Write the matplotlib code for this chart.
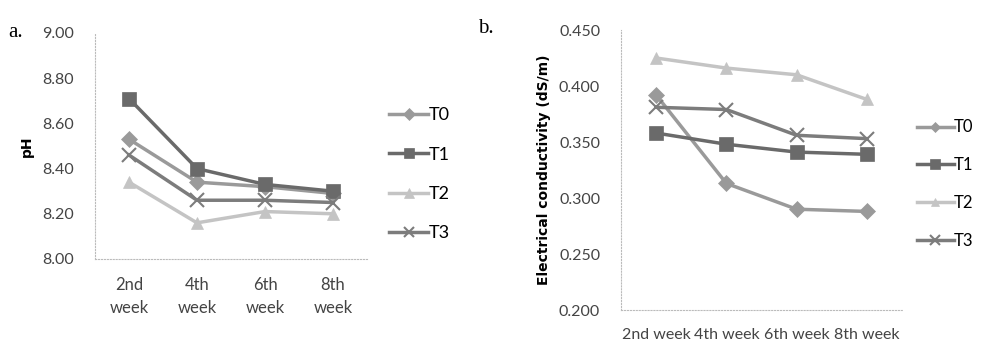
import matplotlib
matplotlib.use("Agg")
import matplotlib.pyplot as plt

plt.rcParams["font.family"] = ["Lato", "DejaVu Sans"]

weeks_a = ["2nd\nweek", "4th\nweek", "6th\nweek", "8th\nweek"]
weeks_b = ["2nd week", "4th week", "6th week", "8th week"]
treatments = ["T0", "T1", "T2", "T3"]

ph_t0 = [8.53, 8.34, 8.32, 8.29]
ph_t1 = [8.71, 8.40, 8.33, 8.30]
ph_t2 = [8.34, 8.16, 8.21, 8.20]
ph_t3 = [8.46, 8.26, 8.26, 8.25]

ec_t0 = [0.392, 0.313, 0.290, 0.288]
ec_t1 = [0.358, 0.348, 0.341, 0.339]
ec_t2 = [0.425, 0.416, 0.410, 0.388]
ec_t3 = [0.381, 0.379, 0.356, 0.353]

colors = ["#9a9a9a", "#6a6a6a", "#c4c4c4", "#7c7c7c"]
markers = ["D", "s", "^", "x"]
msizes = [8, 10, 9, 10]

fig = plt.figure(figsize=(9.96, 3.45), dpi=100)


def draw(ax, xlabels, series, ylim, yticks, fmt, ylabel, lab_size, linespacing):
    x = range(len(xlabels))
    for vals, name, c, m, ms in zip(series, treatments, colors, markers, msizes):
        ax.plot(x, vals, color=c, marker=m, markersize=ms, linewidth=2.5,
                markeredgewidth=1.5 if m == "x" else 0.5,
                markeredgecolor=c, label=name)
    ax.set_ylim(*ylim)
    ax.set_yticks(yticks)
    ax.set_yticklabels([fmt.format(v) for v in yticks], fontsize=11.5, color="#444444")
    ax.set_xlim(-0.5, len(xlabels) - 0.5)
    ax.set_xticks(list(x))
    ax.set_xticklabels(xlabels, fontsize=lab_size, color="#444444",
                       linespacing=linespacing)
    ax.set_ylabel(ylabel, fontsize=10, fontweight="bold", family="DejaVu Sans",
                  labelpad=6)
    for s in ["top", "right"]:
        ax.spines[s].set_visible(False)
    for s in ["left", "bottom"]:
        ax.spines[s].set_color("#bbbbbb")
        ax.spines[s].set_linestyle(":")
    ax.tick_params(axis="y", length=0, pad=15)
    ax.tick_params(axis="x", length=0, pad=13)


ax1 = fig.add_axes([95 / 996, 86 / 345, 272 / 996, 226 / 345])
draw(ax1, weeks_a, [ph_t0, ph_t1, ph_t2, ph_t3], (8.0, 9.0),
     [8.0, 8.2, 8.4, 8.6, 8.8, 9.0], "{:.2f}", "pH", 12, 1.5)
ax1.legend(loc="center left", bbox_to_anchor=(1.02, 0.375), frameon=False,
           fontsize=13, handlelength=2.2, labelspacing=1.3, handletextpad=0.0,
           markerscale=0.75)
fig.text(8 / 996, 1 - 37 / 345, "a.", fontsize=15, family="Liberation Serif")

ax2 = fig.add_axes([621 / 996, 35 / 345, 281 / 996, 280 / 345])
draw(ax2, weeks_b, [ec_t0, ec_t1, ec_t2, ec_t3], (0.2, 0.45),
     [0.2, 0.25, 0.3, 0.35, 0.4, 0.45], "{:.3f}",
     "Electrical conductivity (dS/m)", 11.5, 1.2)
ax2.legend(loc="center left", bbox_to_anchor=(1.0, 0.45), frameon=False,
           fontsize=12, handlelength=2.2, labelspacing=1.3, handletextpad=0.0,
           markerscale=0.65)
fig.text(478 / 996, 1 - 33 / 345, "b.", fontsize=15, family="Liberation Serif")

fig.savefig("out.png", dpi=100)
